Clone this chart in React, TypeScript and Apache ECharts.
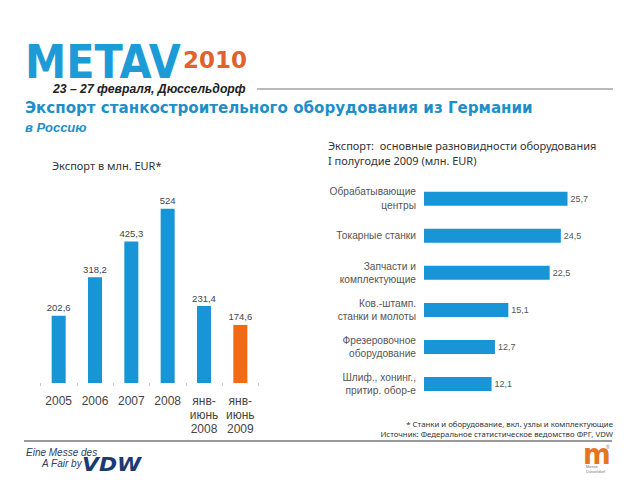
import React, { useEffect, useRef } from "react";
import * as echarts from "echarts";

const yearCategories = ["2005", "2006", "2007", "2008", "янв-\nиюнь\n2008", "янв-\nиюнь\n2009"];
const exportValues = [202.6, 318.2, 425.3, 524, 231.4, 174.6];
const highlightIndex = 5;

const typeCategories = [
  "Обрабатывающие\nцентры",
  "Токарные станки",
  "Запчасти и\nкомплектующие",
  "Ков.-штамп.\nстанки и молоты",
  "Фрезеровочное\nоборудование",
  "Шлиф., хонинг.,\nпритир. обор-е",
];
const typeValues = [25.7, 24.5, 22.5, 15.1, 12.7, 12.1];

const BLUE = "#1795d6";
const ORANGE = "#f26a12";

export default function App() {
  const ref = useRef<HTMLDivElement>(null);
  useEffect(() => {
    document.body.style.margin = "0";
    const chart = echarts.init(ref.current!, null, { renderer: "svg" });
    const fmt = (v: number) => String(v).replace(".", ",");
    chart.setOption({
      animation: false,
      backgroundColor: "#ffffff",
      grid: [
        { left: 40.5, width: 218, top: 183.5, height: 199.5 },
        { left: 424, width: 167.55, top: 180.2, height: 222.4 },
      ],
      xAxis: [
        {
          type: "category",
          gridIndex: 0,
          data: yearCategories,
          axisLine: { show: false },
          axisTick: { show: true, length: 3, lineStyle: { color: "#c8c8c8" } },
          axisLabel: {
            interval: 0,
            color: "#444",
            fontSize: 12,
            lineHeight: 14,
            margin: 11,
            fontFamily: "Liberation Sans, Arial, sans-serif",
          },
        },
        { type: "value", gridIndex: 1, min: 0, max: 30, show: false },
      ],
      yAxis: [
        { type: "value", gridIndex: 0, min: 0, max: 600, show: false },
        {
          type: "category",
          gridIndex: 1,
          inverse: true,
          data: typeCategories,
          axisLine: { show: false },
          axisTick: { show: false },
          axisLabel: {
            interval: 0,
            color: "#555",
            fontSize: 10.2,
            lineHeight: 13.5,
            margin: 8,
            align: "right",
            fontFamily: "Liberation Sans, Arial, sans-serif",
          },
        },
      ],
      series: [
        {
          type: "bar",
          xAxisIndex: 0,
          yAxisIndex: 0,
          barWidth: 14,
          data: exportValues.map((v, i) => ({
            value: v,
            itemStyle: { color: i === highlightIndex ? ORANGE : BLUE },
          })),
          label: {
            show: true,
            position: "top",
            distance: 3,
            fontSize: 9.5,
            color: "#444",
            fontFamily: "Liberation Sans, Arial, sans-serif",
            formatter: (p: any) => fmt(p.value),
          },
        },
        {
          type: "bar",
          xAxisIndex: 1,
          yAxisIndex: 1,
          barWidth: 14,
          itemStyle: { color: BLUE },
          data: typeValues,
          label: {
            show: true,
            position: "right",
            distance: 3,
            fontSize: 9,
            color: "#555",
            fontFamily: "Liberation Sans, Arial, sans-serif",
            formatter: (p: any) => fmt(p.value),
          },
        },
      ],
      graphic: [
        {
          type: "text",
          x: 25,
          y: 39,
          scaleX: 0.9,
          style: {
            text: "METAV",
            font: "bold 46px 'DejaVu Sans', sans-serif",
            fill: "#1d9bd7",
            align: "left",
            verticalAlign: "top",
          },
        },
        {
          type: "text",
          x: 183,
          y: 60,
          style: {
            text: "2010",
            font: "bold 23px 'DejaVu Sans', sans-serif",
            fill: "#e0622c",
            align: "left",
            verticalAlign: "middle",
          },
        },
        {
          type: "text",
          x: 53,
          y: 89,
          style: {
            text: "23 – 27 февраля, Дюссельдорф",
            font: "italic bold 12.2px 'Liberation Sans', Arial, sans-serif",
            fill: "#222",
            align: "left",
            verticalAlign: "middle",
          },
        },
        {
          type: "line",
          shape: { x1: 257, y1: 89, x2: 613, y2: 89 },
          style: { stroke: "#777", lineWidth: 1.2 },
        },
        {
          type: "text",
          x: 25,
          y: 108,
          style: {
            text: "Экспорт станкостроительного оборудования из Германии",
            font: "bold 15.1px 'DejaVu Sans', Verdana, sans-serif",
            fill: "#1f8fc8",
            align: "left",
            verticalAlign: "middle",
          },
        },
        {
          type: "text",
          x: 25,
          y: 127,
          style: {
            text: "в Россию",
            font: "italic bold 13px 'Liberation Sans', Arial, sans-serif",
            fill: "#1f8fc8",
            align: "left",
            verticalAlign: "middle",
          },
        },
        {
          type: "text",
          x: 52,
          y: 165,
          style: {
            text: "Экспорт в млн. EUR*",
            font: "11px 'Noto Sans', sans-serif",
            fill: "#333",
            align: "left",
            verticalAlign: "middle",
          },
        },
        {
          type: "text",
          x: 328,
          y: 145,
          style: {
            text: "Экспорт:  основные разновидности оборудования",
            font: "11px 'Noto Sans', sans-serif",
            fill: "#333",
            align: "left",
            verticalAlign: "middle",
          },
        },
        {
          type: "text",
          x: 328,
          y: 160,
          style: {
            text: "I полугодие 2009 (млн. EUR)",
            font: "11px 'Noto Sans', sans-serif",
            fill: "#333",
            align: "left",
            verticalAlign: "middle",
          },
        },
        {
          type: "text",
          x: 613,
          y: 424,
          style: {
            text: "* Станки и оборудование, вкл. узлы и комплектующие",
            font: "7.8px 'Noto Sans', sans-serif",
            fill: "#333",
            align: "right",
            verticalAlign: "middle",
          },
        },
        {
          type: "text",
          x: 613,
          y: 434,
          style: {
            text: "Источник: Федеральное статистическое ведомство ФРГ, VDW",
            font: "7.8px 'Noto Sans', sans-serif",
            fill: "#333",
            align: "right",
            verticalAlign: "middle",
          },
        },
        {
          type: "line",
          shape: { x1: 24, y1: 441, x2: 612, y2: 441 },
          style: { stroke: "#777", lineWidth: 1.5 },
        },
        {
          type: "text",
          x: 26,
          y: 452,
          style: {
            text: "Eine Messe des",
            font: "italic 10px 'Liberation Sans', Arial, sans-serif",
            fill: "#2a3d66",
            align: "left",
            verticalAlign: "middle",
          },
        },
        {
          type: "text",
          x: 42,
          y: 463,
          style: {
            text: "A Fair by",
            font: "italic 10px 'Liberation Sans', Arial, sans-serif",
            fill: "#2a3d66",
            align: "left",
            verticalAlign: "middle",
          },
        },
        {
          type: "text",
          x: 82,
          y: 465,
          scaleX: 1.15,
          style: {
            text: "VDW",
            font: "italic bold 19px 'DejaVu Sans', sans-serif",
            fill: "#1b3a72",
            align: "left",
            verticalAlign: "middle",
          },
        },
        {
          type: "text",
          x: 583,
          y: 454,
          scaleX: 0.95,
          style: {
            text: "m",
            font: "bold 28px 'DejaVu Sans', sans-serif",
            fill: "#e8741e",
            align: "left",
            verticalAlign: "middle",
          },
        },
        {
          type: "text",
          x: 606,
          y: 447,
          style: {
            text: "®",
            font: "5px 'Liberation Sans', Arial, sans-serif",
            fill: "#777",
            align: "left",
            verticalAlign: "middle",
          },
        },
        {
          type: "text",
          x: 586,
          y: 469,
          style: {
            text: "Messe\nDüsseldorf",
            font: "4px 'Liberation Sans', Arial, sans-serif",
            lineHeight: 5,
            fill: "#777",
            align: "left",
            verticalAlign: "middle",
          },
        },
      ],
    });
    return () => chart.dispose();
  }, []);
  return (
    <div
      ref={ref}
      style={{ position: "absolute", left: 0, top: 0, width: 640, height: 480 }}
    />
  );
}
